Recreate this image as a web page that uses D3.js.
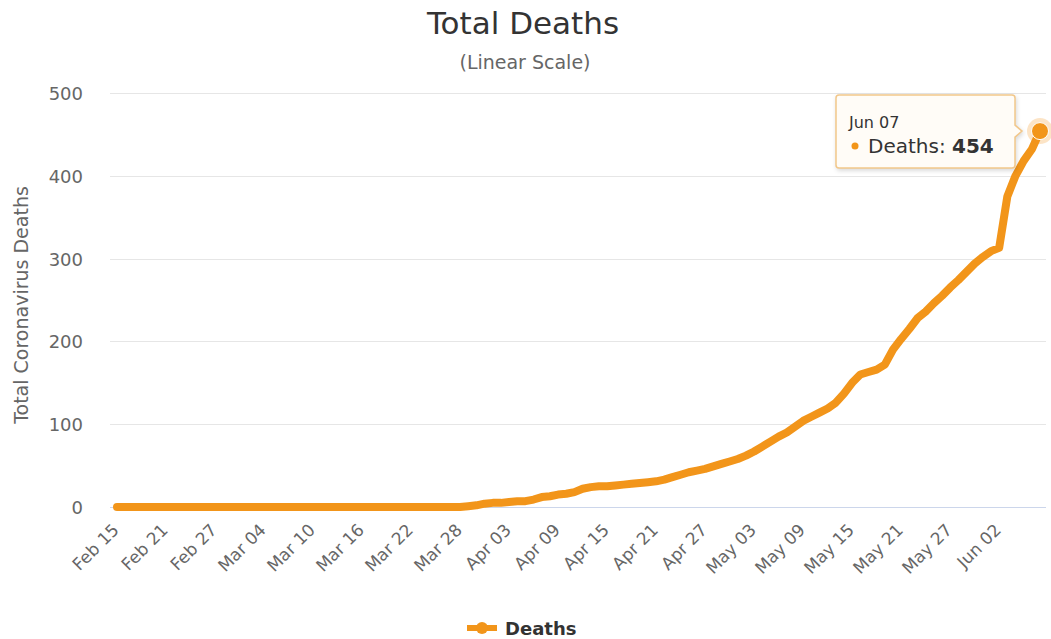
<!DOCTYPE html>
<html>
<head>
<meta charset="utf-8">
<script src="https://cdn.jsdelivr.net/npm/d3@7"></script>
<style>
  html, body { margin: 0; padding: 0; background: #ffffff; }
  #viz_container { width: 1051px; height: 639px; }
  text { font-family: "DejaVu Sans", sans-serif; }
</style>
</head>
<body>
<div id="viz_container"></div>
<script>
// Daily series starts on this date, one value per day
const startDate = "2020-02-15";
// Total deaths per day, Feb 15 .. Jun 07
const deaths = [
  0, 0, 0, 0, 0, 0, 0, 0, 0, 0, 0, 0, 0, 0, 0,        // Feb 15 - Feb 29
  0, 0, 0, 0, 0, 0, 0, 0, 0, 0, 0, 0, 0, 0, 0, 0,     // Mar 01 - Mar 16
  0, 0, 0, 0, 0, 0, 0, 0, 0, 0, 0, 0, 1, 2, 4,        // Mar 17 - Mar 31
  5, 5, 6, 7, 7, 9, 12, 13, 15, 16, 18, 22, 24, 25, 25, // Apr 01 - Apr 15
  26, 27, 28, 29, 30, 31, 33, 36, 39, 42, 44, 46, 49, 52, 55, // Apr 16 - Apr 30
  58, 62, 67, 73, 79, 85, 90, 97, 104, 109, 114, 119, 126, 137, 150, 160, // May 01 - May 16
  163, 166, 172, 190, 203, 215, 228, 236, 246, 255, 265, 274, 284, 294, 302, // May 17 - May 31
  309, 313, 375, 400, 418, 432, 454                    // Jun 01 - Jun 07
];
const xTickLabels = [
  "Feb 15", "Feb 21", "Feb 27", "Mar 04", "Mar 10", "Mar 16", "Mar 22",
  "Mar 28", "Apr 03", "Apr 09", "Apr 15", "Apr 21", "Apr 27", "May 03",
  "May 09", "May 15", "May 21", "May 27", "Jun 02"
];
const yTicks = [0, 100, 200, 300, 400, 500];
const seriesName = "Deaths";

const width = 1051;
const height = 639;
const lineColor = "#f2951a";

const svg = d3
  .select("#viz_container")
  .append("svg")
  .attr("width", width)
  .attr("height", height)
  .attr("viewBox", `0 0 ${width} ${height}`);

const parseDay = d3.utcParse("%Y-%m-%d");
const parseTick = d3.utcParse("%b %d %Y");
const fmtTip = d3.utcFormat("%b %d");

const start = parseDay(startDate);
const data = deaths.map((v, i) => ({ date: d3.utcDay.offset(start, i), value: v }));

const x = d3
  .scaleUtc()
  .domain(d3.extent(data, (d) => d.date))
  .range([117, 1040]);

const y = d3.scaleLinear().domain([0, 500]).range([507, 93]);

// Titles
svg.append("text")
  .attr("x", 523).attr("y", 34)
  .attr("text-anchor", "middle")
  .style("font-size", "31px")
  .style("fill", "#333333")
  .text("Total Deaths");

svg.append("text")
  .attr("x", 525).attr("y", 69)
  .attr("text-anchor", "middle")
  .style("font-size", "19px")
  .style("fill", "#666666")
  .text("(Linear Scale)");

// Grid lines + y labels
const grid = svg.append("g");
grid.selectAll("line")
  .data(yTicks)
  .enter()
  .append("line")
  .attr("x1", 110).attr("x2", 1046)
  .attr("y1", (d) => Math.round(y(d)) + 0.5)
  .attr("y2", (d) => Math.round(y(d)) + 0.5)
  .attr("stroke", (d) => (d === 0 ? "#ccd6eb" : "#e6e6e6"))
  .attr("stroke-width", 1);

grid.selectAll("text")
  .data(yTicks)
  .enter()
  .append("text")
  .attr("x", 83)
  .attr("y", (d) => y(d) + 7)
  .attr("text-anchor", "end")
  .style("font-size", "18px")
  .style("fill", "#666666")
  .text((d) => d);

svg.append("text")
  .attr("transform", "translate(28,305) rotate(-90)")
  .attr("text-anchor", "middle")
  .style("font-size", "19px")
  .style("fill", "#666666")
  .text("Total Coronavirus Deaths");

// X labels, rotated
svg.append("g")
  .selectAll("text")
  .data(xTickLabels)
  .enter()
  .append("text")
  .attr("transform", (d) => {
    const px = x(parseTick(d + " 2020"));
    return `translate(${px + 3},${531}) rotate(-45)`;
  })
  .attr("text-anchor", "end")
  .style("font-size", "17px")
  .style("fill", "#666666")
  .text((d) => d);

// Line
const lineGen = d3
  .line()
  .x((d) => x(d.date))
  .y((d) => y(d.value));

svg.append("path")
  .datum(data)
  .attr("fill", "none")
  .attr("stroke", lineColor)
  .attr("stroke-width", 8)
  .attr("stroke-linejoin", "round")
  .attr("stroke-linecap", "round")
  .attr("d", lineGen);

// Hovered point
const last = data[data.length - 1];
svg.append("circle")
  .attr("cx", x(last.date)).attr("cy", y(last.value))
  .attr("r", 13)
  .attr("fill", lineColor)
  .attr("fill-opacity", 0.25);
svg.append("circle")
  .attr("cx", x(last.date)).attr("cy", y(last.value))
  .attr("r", 8.5)
  .attr("fill", lineColor)
  .attr("stroke", "#ffffff")
  .attr("stroke-width", 1);

// Tooltip
const tip = svg.append("g");
const tx = 836, ty = 95, tw = 179, th = 73;
const ax = x(last.date) - 18, ay = y(last.value);
tip.append("path")
  .attr("d", `M${tx + 3},${ty} H${tx + tw - 3} Q${tx + tw},${ty} ${tx + tw},${ty + 3}
    V${ay - 6} L${ax},${ay} L${tx + tw},${ay + 6}
    V${ty + th - 3} Q${tx + tw},${ty + th} ${tx + tw - 3},${ty + th}
    H${tx + 3} Q${tx},${ty + th} ${tx},${ty + th - 3} V${ty + 3} Q${tx},${ty} ${tx + 3},${ty} Z`)
  .attr("fill", "#fffcf7")
  .attr("stroke", "#f2c78a")
  .attr("stroke-width", 1.5)
  .style("filter", "drop-shadow(1px 2px 2px rgba(0,0,0,0.15))");

tip.append("text")
  .attr("x", 849).attr("y", 128)
  .style("font-size", "16px")
  .style("fill", "#333333")
  .text(fmtTip(last.date));

tip.append("circle")
  .attr("cx", 855).attr("cy", 146)
  .attr("r", 3.5)
  .attr("fill", lineColor);

const tipLine = tip.append("text")
  .attr("x", 868).attr("y", 153)
  .style("font-size", "20px")
  .style("fill", "#333333");
tipLine.append("tspan").text(`${seriesName}: `);
tipLine.append("tspan").style("font-weight", "bold").text(last.value);

// Legend
const legend = svg.append("g");
legend.append("line")
  .attr("x1", 467).attr("x2", 497)
  .attr("y1", 628).attr("y2", 628)
  .attr("stroke", lineColor)
  .attr("stroke-width", 6);
legend.append("circle")
  .attr("cx", 482).attr("cy", 628)
  .attr("r", 6)
  .attr("fill", lineColor);
legend.append("text")
  .attr("x", 505).attr("y", 635)
  .style("font-size", "18px")
  .style("font-weight", "bold")
  .style("fill", "#333333")
  .text(seriesName);
</script>
</body>
</html>
